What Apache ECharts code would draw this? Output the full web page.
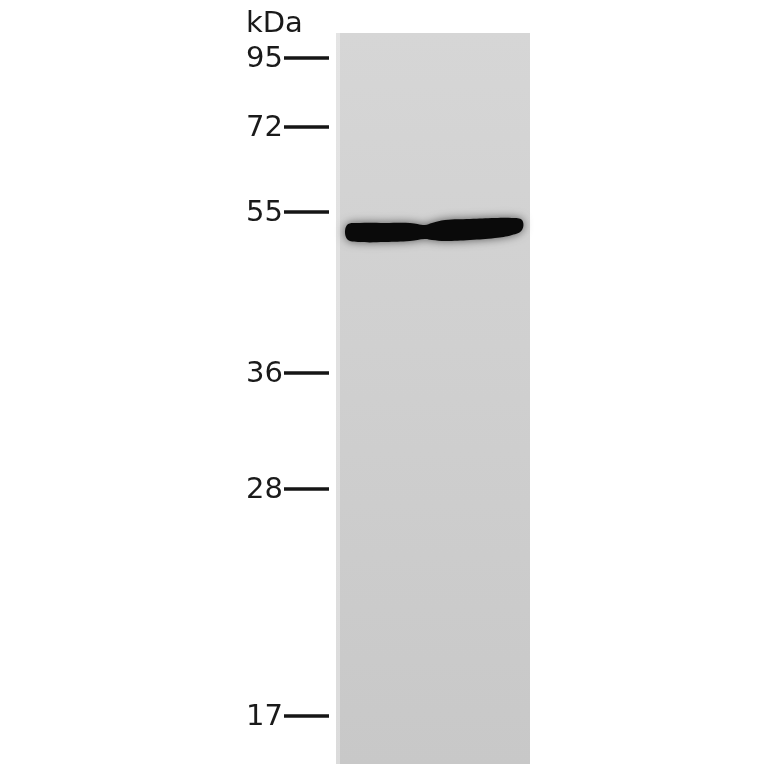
<!DOCTYPE html>
<html>
<head>
<meta charset="utf-8">
<script src="https://cdn.jsdelivr.net/npm/echarts@6/dist/echarts.min.js"></script>
<style>
    html, body { margin: 0; padding: 0; background: #fff; }
    #blot { width: 764px; height: 764px; }
</style>
</head>
<body>
<div id="blot"></div>
<script>
    // marker ladder (kDa) and where each one ran on the gel
    var markerLabels = ['95', '72', '55', '36', '28', '17'];
    var markerPos = [58, 127, 212, 373, 489, 716];

    // lane extent on the membrane
    var laneX = [336, 530];
    var laneY = [33, 764];

    // detected band: upper and lower edge along the lane
    var bandX = [347, 360, 385, 410, 425, 432, 445, 470, 495, 512, 522];
    var bandTop = [225, 223, 223, 223, 225, 223, 220, 219, 218, 218, 220];
    var bandBottom = [239, 242, 242, 241, 239, 240, 241, 240, 238, 235, 230];

    var myChart = echarts.init(document.getElementById('blot'));

    function laneItem(params, api) {
        var p0 = api.coord([laneX[0], laneY[0]]);
        var p1 = api.coord([laneX[1], laneY[1]]);
        return {
            type: 'group',
            children: [{
                type: 'rect',
                shape: {x: p0[0], y: p0[1], width: p1[0] - p0[0], height: p1[1] - p0[1]},
                style: {
                    fill: new echarts.graphic.LinearGradient(0, 0, 0, 1, [
                        {offset: 0, color: '#d6d6d6'},
                        {offset: 0.5, color: '#cfcfcf'},
                        {offset: 1, color: '#c8c8c8'}
                    ])
                }
            }, {
                type: 'rect',
                shape: {x: p0[0], y: p0[1], width: 4, height: p1[1] - p0[1]},
                style: {fill: 'rgba(255,255,255,0.35)'}
            }]
        };
    }

    function bandItem(params, api) {
        var pts = [];
        for (var i = 0; i < bandX.length; i++) {
            pts.push(api.coord([bandX[i], bandTop[i]]));
        }
        for (var j = bandX.length - 1; j >= 0; j--) {
            pts.push(api.coord([bandX[j], bandBottom[j]]));
        }
        return {
            type: 'polygon',
            shape: {points: pts, smooth: 0.4},
            style: {
                fill: '#0a0a0a',
                shadowBlur: 10,
                shadowColor: 'rgba(0,0,0,0.6)'
            }
        };
    }

    function markerItem(params, api) {
        var y = api.value(1);
        var a = api.coord([284, y]);
        var b = api.coord([329, y]);
        return {
            type: 'group',
            children: [{
                type: 'line',
                shape: {x1: a[0], y1: a[1], x2: b[0], y2: b[1]},
                style: {stroke: '#151515', lineWidth: 3.5}
            }, {
                type: 'text',
                x: a[0] - 1,
                y: a[1] + 1,
                style: {
                    text: markerLabels[params.dataIndex],
                    fill: '#1a1a1a',
                    font: '29px "DejaVu Sans"',
                    align: 'right',
                    verticalAlign: 'middle'
                }
            }]
        };
    }

    var option = {
        animation: false,
        backgroundColor: '#fff',
        title: {
            text: 'kDa',
            left: 241,
            top: 5,
            textStyle: {fontFamily: 'DejaVu Sans', fontSize: 29, fontWeight: 'normal', color: '#1a1a1a'}
        },
        grid: {left: 0, right: 0, top: 0, bottom: 0},
        xAxis: {type: 'value', min: 0, max: 764, show: false},
        yAxis: {type: 'value', min: 0, max: 764, inverse: true, show: false},
        series: [
            {type: 'custom', renderItem: laneItem, data: [[0, 0]], silent: true},
            {type: 'custom', renderItem: bandItem, data: [[0, 0]], silent: true},
            {
                type: 'custom',
                renderItem: markerItem,
                data: markerPos.map(function (v, i) { return [i, v]; }),
                silent: true
            }
        ]
    };
    myChart.setOption(option);
</script>
</body>
</html>
